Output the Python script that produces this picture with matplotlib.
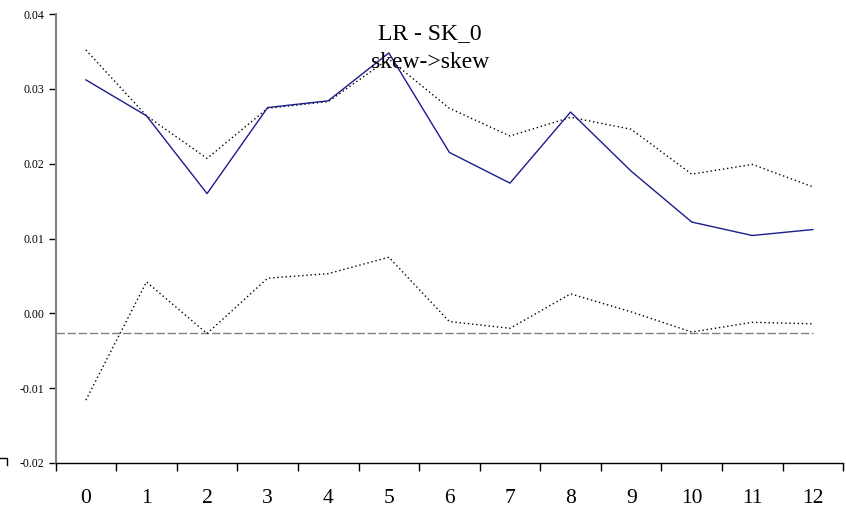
import matplotlib
matplotlib.use("Agg")
import matplotlib.pyplot as plt
from matplotlib.lines import Line2D
import numpy as np

# impulse response values
steps = list(range(13))
response = [0.0312, 0.0264, 0.0160, 0.0275, 0.0284, 0.0348, 0.0215,
            0.0174, 0.0269, 0.0190, 0.0122, 0.0104, 0.0112]
upper_band = [0.0352, 0.0264, 0.0207, 0.0274, 0.0283, 0.0340, 0.0274,
              0.0237, 0.0262, 0.0246, 0.0186, 0.0199, 0.0169]
lower_band = [-0.0116, 0.0042, -0.0027, 0.0047, 0.0053, 0.0075, -0.0011,
              -0.0020, 0.0026, 0.0002, -0.0025, -0.0012, -0.0014]
baseline = -0.0026
y_ticks = [-0.02, -0.01, 0.00, 0.01, 0.02, 0.03, 0.04]

plt.rcParams['font.family'] = ['Liberation Serif', 'DejaVu Serif']

fig = plt.figure(figsize=(8.46, 5.08), dpi=100)
ax = fig.add_axes([0.0657, 0.0886, 0.931, 0.8838])

ax.plot([-0.5, steps[-1]], [baseline, baseline], color='#808080',
        linewidth=1.0, linestyle=(0, (6, 2)))
ax.plot(steps, upper_band, color='black', linewidth=1.0, linestyle=(0, (1, 2)))
ax.plot(steps, lower_band, color='black', linewidth=1.0, linestyle=(0, (1, 2)))
ax.plot(steps, response, color='#1c1c8c', linewidth=1.0)

ax.set_xlim(-0.5, 12.5)
ax.set_ylim(-0.02, 0.04)

# category axis: ticks between categories, labels at centres
ax.set_xticks(np.arange(-0.5, 13.0, 1.0))
ax.set_xticklabels([])
ax.set_xticks(steps, minor=True)
ax.set_xticklabels([str(s) for s in steps], minor=True, fontsize=15.5)
ax.tick_params(axis='x', which='major', direction='out', length=6,
               width=1, color='black')
ax.tick_params(axis='x', which='minor', length=0, pad=19)

ax.set_yticks(y_ticks)
ax.set_yticklabels(['%.2f' % v for v in y_ticks], fontsize=8.5)
ax.tick_params(axis='y', direction='out', length=5, width=1,
               color='black', pad=3)

for side in ['top', 'right']:
    ax.spines[side].set_visible(False)
ax.spines['left'].set_color('#808080')
ax.spines['left'].set_linewidth(1.5)
ax.spines['bottom'].set_color('black')
ax.spines['bottom'].set_linewidth(1.0)

fig.text(0.508, 0.933, 'LR - SK_0', ha='center', va='center', fontsize=17)
fig.text(0.509, 0.876, 'skew->skew', ha='center', va='center', fontsize=17)

# small corner mark at the bottom left
fig.add_artist(Line2D([0.0, 0.0083, 0.0083], [0.098, 0.098, 0.085],
                      transform=fig.transFigure, color='black', linewidth=1))

fig.savefig('out.png', dpi=100)
